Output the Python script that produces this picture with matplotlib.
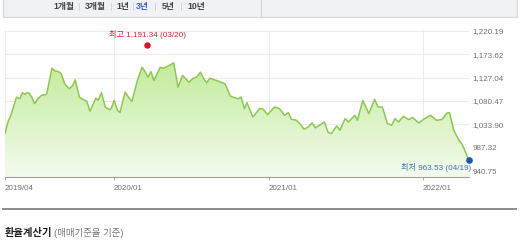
import matplotlib
matplotlib.use("Agg")
import matplotlib.pyplot as plt
import matplotlib.dates as mdates
import numpy as np
from matplotlib.patches import Rectangle
from matplotlib.lines import Line2D
from matplotlib.colors import LinearSegmentedColormap

plt.rcParams['font.family'] = ['Liberation Sans', 'Noto Sans CJK KR']

dates = [
    '2019-04-19', '2019-04-26', '2019-05-03', '2019-05-16', '2019-05-24', '2019-05-30', '2019-06-05',
    '2019-06-10', '2019-06-15', '2019-06-21', '2019-06-28', '2019-07-06', '2019-07-14', '2019-07-26',
    '2019-07-29', '2019-08-08', '2019-08-14', '2019-08-26', '2019-08-30', '2019-09-07', '2019-09-18',
    '2019-09-26', '2019-10-02', '2019-10-12', '2019-10-20', '2019-10-29', '2019-11-06', '2019-11-12',
    '2019-11-20', '2019-11-25', '2019-12-03', '2019-12-12', '2019-12-22', '2019-12-26',
    '2020-01-02', '2020-01-10', '2020-01-16', '2020-01-20', '2020-01-28', '2020-02-05', '2020-02-13',
    '2020-02-26', '2020-03-08', '2020-03-16', '2020-03-22', '2020-03-29', '2020-04-05', '2020-04-20',
    '2020-04-28', '2020-05-10', '2020-05-22', '2020-06-01', '2020-06-12', '2020-06-27', '2020-07-07',
    '2020-07-15', '2020-07-24', '2020-08-01', '2020-08-08', '2020-08-15', '2020-08-31', '2020-09-20',
    '2020-10-03', '2020-10-09', '2020-10-21', '2020-10-28', '2020-11-05', '2020-11-11', '2020-11-25',
    '2020-12-11', '2020-12-18', '2020-12-30',
    '2021-01-15', '2021-01-27', '2021-02-08', '2021-02-17', '2021-02-24', '2021-03-08', '2021-03-16',
    '2021-03-26', '2021-04-05', '2021-04-14', '2021-04-22', '2021-05-13', '2021-05-22', '2021-05-30',
    '2021-06-11', '2021-06-19', '2021-07-01', '2021-07-09', '2021-07-24', '2021-07-30', '2021-08-12',
    '2021-08-26', '2021-09-09', '2021-09-17', '2021-09-27', '2021-10-09', '2021-10-19', '2021-10-27',
    '2021-11-04', '2021-11-16', '2021-11-28', '2021-12-08', '2021-12-22',
    '2022-01-05', '2022-01-19', '2022-02-02', '2022-02-15', '2022-02-27', '2022-03-05', '2022-03-15',
    '2022-03-27', '2022-04-04', '2022-04-19',
]
rates = [
    1015.5, 1038.4, 1051.7, 1088.0, 1084.8, 1096.7, 1093.4, 1096.7, 1095.9, 1088.0, 1074.9, 1084.8,
    1091.4, 1093.4, 1104.6, 1145.5, 1140.9, 1137.6, 1134.4, 1114.6, 1104.6, 1111.2, 1122.5, 1088.0,
    1083.4, 1080.1, 1059.7, 1071.5, 1086.0, 1081.5, 1096.7, 1068.2, 1063.0, 1065.0,
    1081.5, 1061.6, 1057.1, 1071.5, 1097.9, 1088.0, 1079.5, 1121.1, 1147.5, 1137.6, 1127.6, 1138.9,
    1121.1, 1147.5, 1145.5, 1150.8, 1156.2, 1107.8, 1131.0, 1117.7, 1125.7, 1127.6, 1137.6, 1124.5,
    1116.5, 1125.7, 1121.1, 1114.6, 1090.0, 1088.0, 1084.8, 1088.0, 1065.0, 1076.9, 1048.4, 1065.0,
    1065.0, 1053.1,
    1068.2, 1065.0, 1051.7, 1057.1, 1043.8, 1041.8, 1035.3, 1024.0, 1028.5, 1036.5, 1026.6, 1038.4,
    1017.4, 1015.5, 1030.5, 1022.0, 1045.2, 1038.4, 1051.7, 1041.8, 1081.5, 1055.1, 1083.4, 1068.2,
    1068.2, 1035.3, 1031.9, 1045.2, 1038.4, 1049.7, 1043.2, 1047.2, 1036.5,
    1045.2, 1051.7, 1041.8, 1043.2, 1056.3, 1057.1, 1022.0, 1002.2, 993.7, 963.53,
]

y_ticks = [940.75, 987.32, 1033.90, 1080.47, 1127.04, 1173.62, 1220.19]
x_tick_dates = ['2019-04-19', '2020-01-01', '2021-01-01', '2022-01-01']
x_tick_labels = ['2019/04', '2020/01', '2021/01', '2022/01']

high_date, high_value, high_label = '2020-03-20', 1191.34, '최고 1,191.34 (03/20)'
low_date, low_value, low_label = '2022-04-19', 963.53, '최저 963.53 (04/19)'

periods = ['1개월', '3개월', '1년', '3년', '5년', '10년']
active_period = '3년'

W, H = 520, 245
fig = plt.figure(figsize=(W / 100, H / 100), dpi=100)
fig.patch.set_facecolor('white')


def fx(x):
    return x / W


def fy(y):
    return 1 - y / H


ax = fig.add_axes([fx(5), fy(177), fx(469) - fx(5), fy(30) - fy(177)])
ax.set_facecolor('white')

x = mdates.date2num(np.array(dates, dtype='datetime64[D]'))
y = np.array(rates)

ymin, ymax = 928.8, 1220.19
xmin = mdates.date2num(np.datetime64('2019-04-19'))
xmax = mdates.date2num(np.datetime64('2022-04-20'))
ax.set_xlim(xmin, xmax)
ax.set_ylim(ymin, ymax + 1.5)

# grid
for v in y_ticks:
    ax.axhline(v, color='#ebebeb', lw=0.7, zorder=0)
xt = mdates.date2num(np.array(x_tick_dates, dtype='datetime64[D]'))
for v in xt:
    ax.axvline(v, color='#ebebeb', lw=0.7, zorder=0)

# gradient fill
cmap = LinearSegmentedColormap.from_list('g', ['#f4fbee', '#c2eb9c'])
grad = np.linspace(0, 1, 256).reshape(-1, 1)
top = y.max()
im = ax.imshow(grad, cmap=cmap, aspect='auto', origin='lower',
               extent=[x.min(), x.max(), ymin, top], zorder=1)
poly = ax.fill_between(x, y, ymin, color='none', lw=0, zorder=1)
clip = poly.get_paths()[0]
im.set_clip_path(clip, transform=ax.transData)
ax.plot(x, y, color='#8cc94e', lw=1.1, zorder=3, solid_joinstyle='round')

# high / low markers
hx = mdates.date2num(np.datetime64(high_date))
lx = mdates.date2num(np.datetime64(low_date))
ax.plot([hx], [high_value], 'o', color='#e3101f', ms=3.6, zorder=5, clip_on=False)
ax.annotate(high_label, (hx, high_value), xytext=(0, 4.5), textcoords='offset points',
            ha='center', va='bottom', color='#d7262f', fontsize=5.9)
ax.plot([lx], [low_value], 'o', color='#1b59a6', ms=3.8, zorder=5, clip_on=False)
ax.annotate(low_label, (lx, low_value), xytext=(2, -6), textcoords='offset points',
            ha='right', va='center', color='#3b76b3', fontsize=5.9)

# axes styling
for s in ['top', 'left', 'right']:
    ax.spines[s].set_visible(False)
ax.spines['bottom'].set_color('#a0a0a0')
ax.spines['bottom'].set_linewidth(0.8)
ax.yaxis.tick_right()
ax.set_yticks(y_ticks)
ax.set_yticklabels([f'{v:,.2f}' for v in y_ticks])
ax.tick_params(axis='y', length=0, pad=2.5, labelsize=5.8, labelcolor='#707070')
ax.set_xticks(xt)
ax.set_xticklabels(x_tick_labels)
for lab in ax.get_xticklabels():
    lab.set_ha('left')
ax.tick_params(axis='x', length=2.5, width=0.6, color='#a0a0a0', pad=3,
               labelsize=5.8, labelcolor='#707070')

# top period selector bar
fig.patches.append(Rectangle((fx(3), fy(17)), fx(261) - fx(3), fy(-2) - fy(17),
                             transform=fig.transFigure, facecolor='#f1f2f6',
                             edgecolor='#d6d7dc', lw=0.8))
fig.patches.append(Rectangle((fx(261), fy(17)), fx(517) - fx(261), fy(-2) - fy(17),
                             transform=fig.transFigure, facecolor='#f1f2f6',
                             edgecolor='#d6d7dc', lw=0.8))
period_x = [63.5, 95.5, 122.5, 142, 168.5, 196]
sep_x = [78.5, 111, 132.5, 155, 181]
for px_, lab in zip(period_x, periods):
    fig.text(fx(px_), fy(6.5), lab, ha='center', va='center', fontsize=6.3,
             fontweight='bold', color='#3b5fcf' if lab == active_period else '#444444')
for sx in sep_x:
    fig.lines.append(Line2D([fx(sx), fx(sx)], [fy(3), fy(10)], transform=fig.transFigure,
                            color='#d0d0d4', lw=0.6))

# bottom divider + calculator title
fig.lines.append(Line2D([fx(3), fx(516)], [fy(209), fy(209)], transform=fig.transFigure,
                        color='#8c8c8c', lw=1.4))
t1 = fig.text(fx(5), fy(233), '환율계산기', ha='left', va='center', fontsize=7.4,
              fontweight='bold', color='#222222')
fig.canvas.draw()
bb = t1.get_window_extent()
fig.text((bb.x1 + 2) / W, fy(233), '(매매기준율 기준)', ha='left', va='center',
         fontsize=6.8, color='#777777')

fig.savefig('out.png', dpi=100, facecolor='white')
